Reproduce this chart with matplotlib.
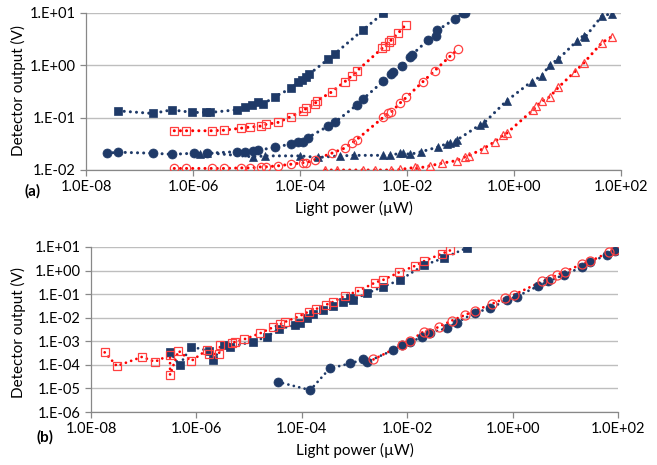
import numpy as np
import matplotlib
matplotlib.use("Agg")
import matplotlib.pyplot as plt
from matplotlib.ticker import FixedLocator, FuncFormatter

plt.rcParams['font.family'] = ['Lato', 'DejaVu Sans']

NAVY = "#1F3A68"
RED = "#FF0000"

# ---- panel (a): log10 of light power (uW) and detector output (V) ----
a_sq_p = [-7.40, -6.75, -6.40, -6.01, -5.76, -5.68, -5.18, -5.02, -4.90, -4.79, -4.69,
          -4.47, -4.17, -4.03, -3.97, -3.88, -3.83, -3.47, -3.35, -2.83, -2.44]
a_sq_v = [-0.87, -0.92, -0.85, -0.90, -0.90, -0.90, -0.85, -0.79, -0.76, -0.71, -0.74,
          -0.60, -0.44, -0.32, -0.28, -0.22, -0.17, 0.12, 0.22, 0.67, 1.00]

a_osq_p = [-6.35, -6.13, -5.64, -5.42, -5.10, -4.94, -4.72, -4.64, -4.41, -4.17, -3.94,
           -3.88, -3.72, -3.69, -3.41, -3.16, -3.03, -2.94, -2.46, -2.42, -2.33, -2.29,
           -2.16, -2.02]
a_osq_v = [-1.25, -1.25, -1.25, -1.24, -1.20, -1.18, -1.16, -1.13, -1.09, -0.98, -0.87,
           -0.82, -0.74, -0.68, -0.51, -0.31, -0.20, -0.11, 0.33, 0.37, 0.44, 0.49,
           0.62, 0.78]

a_ci_p = [-7.61, -7.40, -6.75, -6.39, -5.99, -5.74, -5.18, -5.03, -4.87, -4.78, -4.47,
          -4.17, -4.03, -3.94, -3.85, -3.47, -3.35, -2.94, -2.83, -2.44, -2.29, -2.26,
          -2.10, -1.94, -1.91, -1.60, -1.45, -1.43, -1.10, -0.95, -0.92]
a_ci_v = [-1.68, -1.66, -1.68, -1.70, -1.68, -1.68, -1.65, -1.65, -1.63, -1.62, -1.57,
          -1.50, -1.47, -1.46, -1.38, -1.16, -1.09, -0.76, -0.65, -0.30, -0.16, -0.12,
          -0.01, 0.16, 0.20, 0.49, 0.57, 0.67, 0.89, 1.00, 1.00]

a_oci_p = [-6.35, -6.13, -5.64, -5.42, -5.10, -4.94, -4.72, -4.64, -4.41, -4.17, -3.94,
           -3.88, -3.72, -3.41, -3.16, -3.03, -2.94, -2.44, -2.35, -2.29, -2.13, -2.01,
           -1.70, -1.48, -1.20, -1.04]
a_oci_v = [-1.97, -1.97, -1.97, -1.97, -1.96, -1.96, -1.94, -1.94, -1.92, -1.89, -1.86,
           -1.86, -1.80, -1.68, -1.58, -1.48, -1.42, -0.99, -0.92, -0.89, -0.72, -0.61,
           -0.31, -0.10, 0.17, 0.31]

a_tri_p = [-5.87, -5.74, -4.87, -4.65, -4.00, -3.66, -3.25, -3.00, -2.44, -2.32, -2.13,
           -2.07, -1.94, -1.73, -1.42, -1.26, -1.20, -1.10, -1.07, -0.64, -0.57, -0.14,
           0.33, 0.52, 0.67, 0.83, 1.17, 1.30, 1.33, 1.64, 1.83]
a_tri_v = [-1.70, -1.67, -1.75, -1.73, -1.73, -1.76, -1.73, -1.72, -1.72, -1.72, -1.68,
           -1.68, -1.70, -1.65, -1.56, -1.50, -1.49, -1.46, -1.43, -1.14, -1.11, -0.68,
           -0.31, -0.20, 0.01, 0.12, 0.46, 0.57, 0.54, 0.94, 0.99]

a_otri_p = [-3.53, -3.31, -2.82, -2.60, -2.29, -2.13, -1.85, -1.82, -1.57, -1.35, -1.07,
            -0.92, -0.85, -0.57, -0.36, -0.20, -0.14, 0.36, 0.42, 0.52, 0.67, 0.83,
            1.14, 1.30, 1.64, 1.83]
a_otri_v = [-2.00, -2.00, -2.00, -2.00, -2.00, -1.99, -1.95, -1.97, -1.92, -1.87, -1.82,
            -1.75, -1.73, -1.59, -1.46, -1.33, -1.30, -0.85, -0.78, -0.69, -0.60, -0.42,
            -0.12, 0.04, 0.43, 0.55]

# ---- panel (b) ----
b_sq_p = [-6.50, -6.32, -6.10, -5.77, -5.69, -5.48, -5.36, -4.92, -4.66, -4.44, -4.12,
          -4.03, -3.90, -3.78, -3.59, -3.40, -3.21, -3.08, -3.02, -2.76, -2.45, -2.13,
          -1.69, -1.31, -0.87]
b_sq_v = [-3.47, -4.01, -3.23, -3.40, -3.80, -3.16, -3.23, -3.02, -2.80, -2.49, -2.31,
          -2.21, -2.02, -1.84, -1.67, -1.50, -1.32, -1.17, -1.24, -0.96, -0.68, -0.39,
          0.22, 0.53, 0.96]

b_osq_p = [-7.74, -7.51, -7.03, -6.79, -6.50, -6.50, -6.34, -6.10, -5.80, -5.77, -5.57,
           -5.55, -5.33, -5.26, -5.10, -4.79, -4.54, -4.41, -4.31, -4.06, -3.87, -3.74,
           -3.55, -3.40, -3.18, -2.92, -2.61, -2.45, -2.16, -1.85, -1.69, -1.34, -1.18]
b_osq_v = [-3.47, -4.05, -3.66, -3.87, -3.58, -4.43, -3.40, -3.84, -3.37, -3.54, -3.54,
           -3.16, -3.09, -3.02, -2.92, -2.66, -2.40, -2.28, -2.17, -1.95, -1.74, -1.64,
           -1.46, -1.32, -1.07, -0.86, -0.51, -0.39, -0.08, 0.20, 0.39, 0.72, 0.86]

b_ci_p = [-4.46, -3.84, -3.47, -3.08, -2.83, -2.76, -2.26, -2.10, -1.94, -1.72, -1.56,
          -1.25, -1.06, -0.71, -0.42, -0.11, 0.08, 0.49, 0.68, 0.97, 1.32, 1.47, 1.79, 1.95]
b_ci_v = [-4.72, -5.07, -4.15, -3.94, -3.77, -3.87, -3.37, -3.16, -3.02, -2.83, -2.63,
          -2.45, -2.21, -1.78, -1.60, -1.24, -1.10, -0.65, -0.46, -0.18, 0.15, 0.35, 0.67, 0.81]

b_oci_p = [-2.64, -2.10, -1.94, -1.69, -1.59, -1.40, -1.15, -0.90, -0.71, -0.39, -0.14,
           0.02, 0.56, 0.72, 0.84, 1.00, 1.32, 1.47, 1.82, 1.95]
b_oci_v = [-3.77, -3.16, -2.97, -2.59, -2.63, -2.38, -2.12, -1.88, -1.70, -1.41, -1.17,
           -1.03, -0.46, -0.35, -0.18, -0.04, 0.28, 0.39, 0.77, 0.86]

xticks = [1e-8, 1e-6, 1e-4, 1e-2, 1e0, 1e2]


def line(ax, p, v, color, marker, filled, ms, lw):
    p = 10.0 ** np.array(p)
    v = 10.0 ** np.array(v)
    ax.plot(p, v, color=color, lw=lw, linestyle=(0, (0.01, 2.0)),
            dash_capstyle='round', zorder=2)
    if filled:
        ax.plot(p, v, linestyle='none', marker=marker, ms=ms, mfc=color, mec=color,
                mew=0.5, zorder=3)
    else:
        ax.plot(p, v, linestyle='none', marker=marker, ms=ms, mfc='none',
                mec="#FF4040", mew=0.9, zorder=4)


def style(ax, ylo, yhi, fmt):
    ax.set_xscale('log')
    ax.set_yscale('log')
    ax.set_xlim(1e-8, 1e2)
    ax.set_ylim(ylo, yhi)
    ax.xaxis.set_major_locator(FixedLocator(xticks))
    ax.xaxis.set_minor_locator(FixedLocator([]))
    ax.yaxis.set_minor_locator(FixedLocator([]))
    ax.xaxis.set_major_formatter(FuncFormatter(lambda x, pos: "%.1E" % x))
    ax.yaxis.set_major_formatter(FuncFormatter(fmt))
    ax.grid(axis='y', color="#BEBEBE", lw=1.0)
    ax.set_axisbelow(True)
    for s in ['top', 'right']:
        ax.spines[s].set_visible(False)
    for s in ['left', 'bottom']:
        ax.spines[s].set_color("#888888")
        ax.spines[s].set_linewidth(0.9)
    ax.tick_params(axis='both', colors="#888888", length=4, width=0.9,
                   labelsize=10.5, labelcolor='black')
    ax.set_xlabel("Light power (\u00b5W)", fontsize=11, labelpad=5)


def efmt(y, pos):
    e = int(round(np.log10(y)))
    return "1.E%+03d" % e


fig = plt.figure(figsize=(6.57, 4.65), dpi=100)

ax1 = fig.add_axes([86 / 657, 1 - 170 / 465, 535 / 657, 157 / 465])
line(ax1, a_sq_p, a_sq_v, NAVY, 's', True, 6, 2.2)
line(ax1, a_osq_p, a_osq_v, RED, 's', False, 6, 2.2)
line(ax1, a_ci_p, a_ci_v, NAVY, 'o', True, 6.5, 2.2)
line(ax1, a_oci_p, a_oci_v, RED, 'o', False, 6, 2.2)
line(ax1, a_tri_p, a_tri_v, NAVY, '^', True, 6, 2.2)
line(ax1, a_otri_p, a_otri_v, RED, '^', False, 6, 2.2)
style(ax1, 1e-2, 1e1, efmt)

ax2 = fig.add_axes([91 / 657, 1 - 412 / 465, 527 / 657, 165 / 465])
line(ax2, b_sq_p, b_sq_v, NAVY, 's', True, 6, 2.0)
line(ax2, b_ci_p, b_ci_v, NAVY, 'o', True, 6.5, 2.0)
line(ax2, b_osq_p, b_osq_v, RED, 's', False, 6, 2.0)
line(ax2, b_oci_p, b_oci_v, RED, 'o', False, 6.5, 2.0)
style(ax2, 1e-6, 1e1, efmt)
ax2.yaxis.set_major_locator(FixedLocator([10.0 ** k for k in range(-6, 2)]))

fig.text(18 / 657, 1 - 91 / 465, "Detector output (V)", rotation=90,
         ha='center', va='center', fontsize=11)
fig.text(18 / 657, 1 - 332 / 465, "Detector output (V)", rotation=90,
         ha='center', va='center', fontsize=11)
fig.text(33 / 657, 1 - 191 / 465, "(a)", ha='center', va='center',
         fontsize=11, fontweight='bold')
fig.text(45 / 657, 1 - 437 / 465, "(b)", ha='center', va='center',
         fontsize=11, fontweight='bold')

fig.savefig("out.png", dpi=100)
